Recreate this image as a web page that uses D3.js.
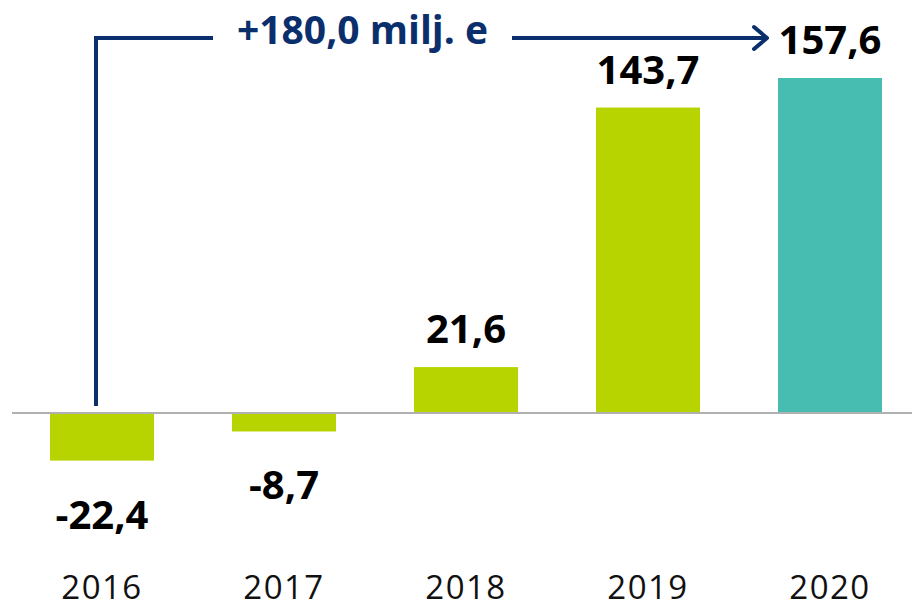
<!DOCTYPE html>
<html>
<head>
<meta charset="utf-8">
<script src="https://cdn.jsdelivr.net/npm/d3@7"></script>
<style>
  html, body { margin: 0; padding: 0; background: #ffffff; }
  svg { display: block; }
  text { font-family: "Open Sans", "Noto Sans", sans-serif; }
</style>
</head>
<body>
<svg id="chart" width="912" height="603"></svg>
<script>
// Data
const years = ["2016", "2017", "2018", "2019", "2020"];
const values = [-22.4, -8.7, 21.6, 143.7, 157.6];
const valueLabels = ["-22,4", "-8,7", "21,6", "143,7", "157,6"];
const barColors = ["#b7d400", "#b7d400", "#b7d400", "#b7d400", "#47bcb0"];
const annotationText = "+180,0 milj. e";

const W = 912, H = 603;
const svg = d3.select("#chart");

const x = d3.scaleBand()
  .domain(years)
  .range([11, 921])
  .paddingInner(0.4286)
  .paddingOuter(0.2143);

const y = d3.scaleLinear()
  .domain([0, d3.max(values)])
  .range([413, 78]);

// Bars
svg.append("g").selectAll("rect")
  .data(years)
  .join("rect")
  .attr("x", d => x(d))
  .attr("width", x.bandwidth())
  .attr("y", (d, i) => Math.min(y(values[i]), y(0)))
  .attr("height", (d, i) => Math.abs(y(values[i]) - y(0)))
  .attr("fill", (d, i) => barColors[i]);

// Baseline
svg.append("line")
  .attr("x1", 12).attr("x2", W)
  .attr("y1", y(0)).attr("y2", y(0))
  .attr("stroke", "#b0b0b0")
  .attr("stroke-width", 2);

// Value labels
svg.append("g").selectAll("text")
  .data(years)
  .join("text")
  .attr("x", d => x(d) + x.bandwidth() / 2)
  .attr("y", (d, i) => values[i] >= 0 ? y(values[i]) - 24 : y(values[i]) + 68)
  .attr("text-anchor", "middle")
  .attr("font-size", 40)
  .attr("font-weight", 700)
  .attr("fill", "#000000")
  .text((d, i) => valueLabels[i]);

// Year axis labels
const xAxis = d3.axisBottom(x).tickSize(0).tickPadding(0);
const axisG = svg.append("g")
  .attr("transform", "translate(0,576)")
  .call(xAxis);
axisG.select(".domain").remove();
axisG.selectAll("text")
  .attr("font-size", 33)
  .attr("font-family", "\"Open Sans\", sans-serif")
  .attr("letter-spacing", "1.5px")
  .attr("fill", "#111111")
  .attr("dy", "0.71em");

// Annotation
const navy = "#0b2f6c";
const ax0 = x(years[0]) + x.bandwidth() / 2 - 6;
const ay = 38;
const ayBottom = 406;
const textLeft = 213;
const textRight = 512;
const arrowEnd = x(years[4]) - 11;

svg.append("path")
  .attr("d", `M${ax0},${ayBottom} V${ay} H${textLeft}`)
  .attr("fill", "none")
  .attr("stroke", navy)
  .attr("stroke-width", 4);

svg.append("path")
  .attr("d", `M${textRight},${ay} H${arrowEnd - 1}`)
  .attr("fill", "none")
  .attr("stroke", navy)
  .attr("stroke-width", 4);

svg.append("path")
  .attr("d", `M${arrowEnd - 13},${ay - 11} L${arrowEnd},${ay} L${arrowEnd - 13},${ay + 11}`)
  .attr("fill", "none")
  .attr("stroke", navy)
  .attr("stroke-width", 4)
  .attr("stroke-linecap", "round")
  .attr("stroke-linejoin", "round");

svg.append("text")
  .attr("x", (textLeft + textRight) / 2)
  .attr("y", 44)
  .attr("text-anchor", "middle")
  .attr("font-size", 39)
  .attr("font-weight", 700)
  .attr("fill", navy)
  .text(annotationText);
</script>
</body>
</html>
